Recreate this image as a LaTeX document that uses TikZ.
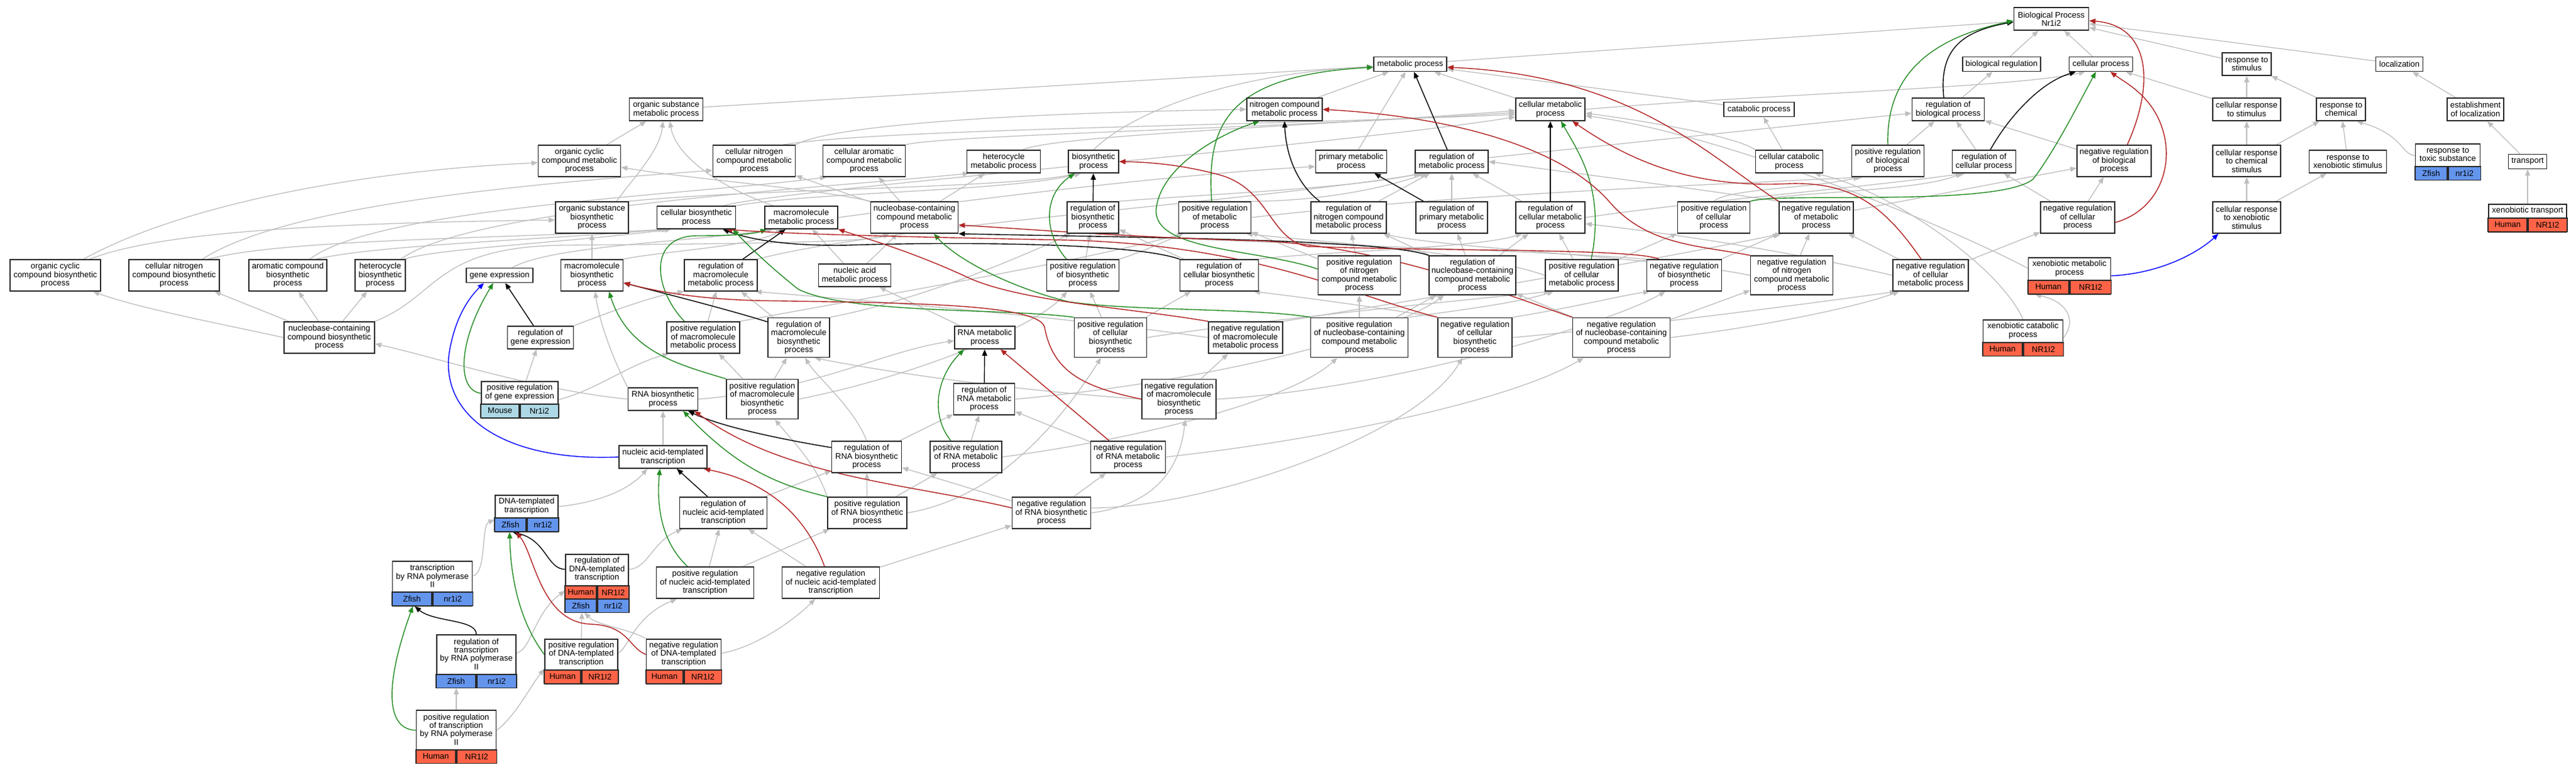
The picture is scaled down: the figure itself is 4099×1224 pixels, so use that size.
\documentclass[tikz,border=0pt]{standalone}
\usepackage{fontspec}
\setmainfont{Liberation Sans}
\usetikzlibrary{arrows.meta,calc,backgrounds}
\pgfdeclarelayer{bottom}
\pgfsetlayers{bottom,background,main}
\definecolor{isagrey}{RGB}{190,190,190}
\definecolor{nodeline}{RGB}{40,40,40}
\definecolor{regred}{RGB}{178,34,34}
\definecolor{reggreen}{RGB}{34,139,34}
\definecolor{human}{RGB}{255,99,71}
\definecolor{zfish}{RGB}{100,149,237}
\definecolor{mouse}{RGB}{173,216,230}
\tikzset{
  box/.style={draw=nodeline, line width=1.6pt, fill=white, inner sep=0pt, align=center, font=\fontsize{13}{13.4}\selectfont},
  txt/.style={inner sep=0pt, align=center, font=\fontsize{13}{13.4}\selectfont},
  cell/.style={draw=nodeline, line width=1.6pt, inner sep=0pt, minimum height=21.5pt, font=\fontsize{13}{13.4}\selectfont},
  isa/.style={draw=isagrey, line width=1.3pt, -{Triangle[length=10pt,width=8pt]}},
  bkreg/.style={draw=black, line width=1.4pt, -{Triangle[length=10pt,width=8pt]}},
  gnreg/.style={draw=reggreen, line width=1.4pt, -{Triangle[length=10pt,width=8pt]}},
  rdreg/.style={draw=regred, line width=1.4pt, -{Triangle[length=10pt,width=8pt]}},
  partof/.style={draw=blue, line width=1.4pt, -{Triangle[length=10pt,width=8pt]}},
}
\newcommand{\gonode}[6]{\node[box, minimum width=#4pt, minimum height=#5pt] (#1) at (#2,#3) {#6};}
\newcommand{\labbox}[7]{%
  \node[box, minimum width=#4pt, minimum height=#5pt, anchor=north] (#1) at (#2,#3) {};
  \node[txt] (#1-t) at ($(#1.north)+(0,#6/2)$) {#7};}
\newcommand{\sprow}[7]{%
  \node[cell, fill=#7, minimum width=#4pt, anchor=north east] (#1a) at (#2,#3) {#5};
  \node[cell, fill=#7, minimum width=#4pt, anchor=north west] (#1b) at (#2,#3) {#6};}
\begin{document}
\begin{tikzpicture}[x=1pt,y=-1pt]
\useasboundingbox (0,0) rectangle (4099,1224);
\begin{pgfonlayer}{bottom}
\fill[white] (0,0) rectangle (4099,1224);
\end{pgfonlayer}
% ---------------- nodes ----------------
\gonode{BPN}{3264}{30}{119}{36}{Biological Process\\Nr1i2}
\gonode{MP}{2244}{102}{116}{23}{metabolic process}
\gonode{BR}{3185}{102}{124}{23}{biological regulation}
\gonode{CP}{3343}{102}{101}{23}{cellular process}
\gonode{RS}{3575}{102}{78}{36}{response to\\stimulus}
\gonode{LOC}{3818}{102}{75}{23}{localization}
\gonode{OSMP}{1060}{174}{117}{36}{organic substance\\metabolic process}
\gonode{NCMP}{2044}{174}{120}{36}{nitrogen compound\\metabolic process}
\gonode{CMP}{2467}{174}{110}{36}{cellular metabolic\\process}
\gonode{CATP}{2799}{174}{112}{23}{catabolic process}
\gonode{RBIOP}{3100}{174}{115}{36}{regulation of\\biological process}
\gonode{CRS}{3575}{174}{108}{36}{cellular response\\to stimulus}
\gonode{RC}{3725}{174}{78}{36}{response to\\chemical}
\gonode{EOL}{3939}{174}{90}{36}{establishment\\of localization}
\gonode{OCCMP}{922}{256}{131}{50}{organic cyclic\\compound metabolic\\process}
\gonode{CNCMP}{1200}{256}{131}{50}{cellular nitrogen\\compound metabolic\\process}
\gonode{CACMP}{1375}{256}{131}{50}{cellular aromatic\\compound metabolic\\process}
\gonode{HMP}{1597}{257}{117}{36}{heterocycle\\metabolic process}
\gonode{BP}{1740}{257}{80}{36}{biosynthetic\\process}
\gonode{PMP}{2150}{257}{113}{36}{primary metabolic\\process}
\gonode{RMP}{2310}{257}{116}{36}{regulation of\\metabolic process}
\gonode{CCATP}{2847}{257}{107}{36}{cellular catabolic\\process}
\gonode{PRBIOP}{3004}{256}{115}{50}{positive regulation\\of biological\\process}
\gonode{RCP}{3157}{257}{101}{36}{regulation of\\cellular process}
\gonode{NRBIOP}{3364}{256}{118}{50}{negative regulation\\of biological\\process}
\gonode{CRCS}{3575}{256}{108}{50}{cellular response\\to chemical\\stimulus}
\gonode{RXS}{3736}{257}{123}{36}{response to\\xenobiotic stimulus}
\labbox{RTS}{3895}{228}{103}{57.5}{36}{response to\\toxic substance}
\sprow{RTS}{3895}{264}{51.5}{Zfish}{nr1i2}{zfish}
\gonode{T}{4022}{257}{61}{23}{transport}
\gonode{OSBP}{942}{346}{116}{50}{organic substance\\biosynthetic\\process}
\gonode{CBP}{1108}{346}{125}{36}{cellular biosynthetic\\process}
\gonode{MMP}{1275}{346}{116}{36}{macromolecule\\metabolic process}
\gonode{NCCMP}{1455}{346}{139}{50}{nucleobase-containing\\compound metabolic\\process}
\gonode{RBP}{1739}{346}{82}{50}{regulation of\\biosynthetic\\process}
\gonode{PRMP}{1933}{346}{115}{50}{positive regulation\\of metabolic\\process}
\gonode{RNCMP}{2146}{346}{120}{50}{regulation of\\nitrogen compound\\metabolic process}
\gonode{RPMP}{2310}{346}{114}{50}{regulation of\\primary metabolic\\process}
\gonode{RCMP}{2467}{346}{110}{50}{regulation of\\cellular metabolic\\process}
\gonode{PRCP}{2727}{346}{115}{50}{positive regulation\\of cellular\\process}
\gonode{NRMP}{2890}{346}{118}{50}{negative regulation\\of metabolic\\process}
\gonode{NRCP}{3306}{346}{118}{50}{negative regulation\\of cellular\\process}
\gonode{CRXS}{3575}{346}{108}{50}{cellular response\\to xenobiotic\\stimulus}
\labbox{XT}{4022}{324}{124}{44}{22}{xenobiotic transport}
\sprow{XT}{4022}{346}{62}{Human}{NR1I2}{human}
\gonode{OCCBP}{88}{438}{144}{50}{organic cyclic\\compound biosynthetic\\process}
\gonode{CNCBP}{277}{438}{144}{50}{cellular nitrogen\\compound biosynthetic\\process}
\gonode{ACBP}{458}{438}{124}{50}{aromatic compound\\biosynthetic\\process}
\gonode{HBP}{605}{438}{80}{50}{heterocycle\\biosynthetic\\process}
\gonode{GE}{795}{438}{106}{23}{gene expression}
\gonode{MBP}{942}{438}{99}{50}{macromolecule\\biosynthetic\\process}
\gonode{RMMP}{1147}{438}{116}{50}{regulation of\\macromolecule\\metabolic process}
\gonode{NAMP}{1360}{438}{115}{36}{nucleic acid\\metabolic process}
\gonode{PRBP}{1723}{438}{115}{50}{positive regulation\\of biosynthetic\\process}
\gonode{RCBP}{1940}{438}{125}{50}{regulation of\\cellular biosynthetic\\process}
\gonode{PRNCMP}{2163}{438}{131}{62}{positive regulation\\of nitrogen\\compound metabolic\\process}
\gonode{RNCCMP}{2343}{438}{138}{62}{regulation of\\nucleobase-containing\\compound metabolic\\process}
\gonode{PRCMP}{2517}{438}{116}{50}{positive regulation\\of cellular\\metabolic process}
\gonode{NRBSP}{2680}{438}{119}{50}{negative regulation\\of biosynthetic\\process}
\gonode{NRNCMP}{2851}{438}{131}{62}{negative regulation\\of nitrogen\\compound metabolic\\process}
\gonode{NRCMP}{3072}{438}{120}{50}{negative regulation\\of cellular\\metabolic process}
\labbox{XMP}{3293}{409}{131}{58}{36}{xenobiotic metabolic\\process}
\sprow{XMP}{3293}{445}{65.5}{Human}{NR1I2}{human}
\gonode{NCCBP}{524}{537}{144}{50}{nucleobase-containing\\compound biosynthetic\\process}
\gonode{RGE}{860}{537}{105}{36}{regulation of\\gene expression}
\gonode{PRMMP}{1119}{537}{116}{50}{positive regulation\\of macromolecule\\metabolic process}
\gonode{RMBP}{1271}{537}{98}{63}{regulation of\\macromolecule\\biosynthetic\\process}
\gonode{RNAMP}{1567}{537}{96}{36}{RNA metabolic\\process}
\gonode{PRCBP}{1767}{537}{115}{63}{positive regulation\\of cellular\\biosynthetic\\process}
\gonode{NRMMP}{1982}{537}{118}{50}{negative regulation\\of macromolecule\\metabolic process}
\gonode{PRNCCMP}{2163}{537}{155}{63}{positive regulation\\of nucleobase-containing\\compound metabolic\\process}
\gonode{NRCBP}{2347}{537}{118}{63}{negative regulation\\of cellular\\biosynthetic\\process}
\gonode{NRNCCMP}{2580}{537}{155}{63}{negative regulation\\of nucleobase-containing\\compound metabolic\\process}
\labbox{XCP}{3219}{508}{127}{57.5}{36}{xenobiotic catabolic\\process}
\sprow{XCP}{3219}{544}{63.5}{Human}{NR1I2}{human}
\labbox{PRGE}{827}{606}{122}{58}{36}{positive regulation\\of gene expression}
\sprow{PRGE}{827}{642}{61}{Mouse}{Nr1i2}{mouse}
\gonode{RNABP}{1055}{635}{111}{36}{RNA biosynthetic\\process}
\gonode{PRMBP}{1213}{635}{114}{63}{positive regulation\\of macromolecule\\biosynthetic\\process}
\gonode{RRNAMP}{1566}{635}{97}{50}{regulation of\\RNA metabolic\\process}
\gonode{NRMBP}{1876}{635}{118}{63}{negative regulation\\of macromolecule\\biosynthetic\\process}
\gonode{NATT}{1055}{727}{140}{36}{nucleic acid-templated\\transcription}
\gonode{RRNABP}{1379}{727}{111}{50}{regulation of\\RNA biosynthetic\\process}
\gonode{PRRNAMP}{1537}{727}{114}{50}{positive regulation\\of RNA metabolic\\process}
\gonode{NRRNAMP}{1795}{727}{119}{50}{negative regulation\\of RNA metabolic\\process}
\labbox{DNAT}{838}{787}{100}{58}{36}{DNA-templated\\transcription}
\sprow{DNAT}{838}{823}{50}{Zfish}{nr1i2}{zfish}
\gonode{RNATT}{1151}{816}{139}{50}{regulation of\\nucleic acid-templated\\transcription}
\gonode{PRRNABP}{1380}{816}{126}{50}{positive regulation\\of RNA biosynthetic\\process}
\gonode{NRRNABP}{1673}{816}{125}{50}{negative regulation\\of RNA biosynthetic\\process}
\labbox{TRP2}{688}{892}{127}{71}{49}{transcription\\by RNA polymerase\\II}
\sprow{TRP2}{688}{941}{63.5}{Zfish}{nr1i2}{zfish}
\labbox{RDNAT}{950}{881}{100}{92}{50}{regulation of\\DNA-templated\\transcription}
\sprow{RDNATh}{950}{931}{50}{Human}{NR1I2}{human}
\sprow{RDNATz}{950}{952}{50}{Zfish}{nr1i2}{zfish}
\gonode{PRNATT}{1122}{927}{155}{50}{positive regulation\\of nucleic acid-templated\\transcription}
\gonode{NRNATT}{1322}{927}{155}{50}{negative regulation\\of nucleic acid-templated\\transcription}
\labbox{RTRP2}{758}{1009}{126}{84}{63}{regulation of\\transcription\\by RNA polymerase\\II}
\sprow{RTRP2}{758}{1072}{63}{Zfish}{nr1i2}{zfish}
\labbox{PRDNAT}{925}{1016}{116}{71}{49}{positive regulation\\of DNA-templated\\transcription}
\sprow{PRDNAT}{925}{1065}{58}{Human}{NR1I2}{human}
\labbox{NRDNAT}{1088}{1016}{119}{71}{49}{negative regulation\\of DNA-templated\\transcription}
\sprow{NRDNAT}{1088}{1065}{59.5}{Human}{NR1I2}{human}
\labbox{PRTRP2}{726}{1129}{127}{84}{63}{positive regulation\\of transcription\\by RNA polymerase\\II}
\sprow{PRTRP2}{726}{1192}{63.5}{Human}{NR1I2}{human}
% ---------------- edges ----------------
\begin{pgfonlayer}{background}
% is_a (grey)
\draw[isa] (MP) -- (BPN);
\draw[isa] (BR) -- (BPN);
\draw[isa] (CP) -- (BPN);
\draw[isa] (RS) -- (BPN);
\draw[isa] (LOC) -- (BPN);
\draw[isa] (RBIOP) -- (BR);
\draw[isa] (CMP) -- (MP);
\draw[isa] (CMP.east) .. controls (2800,150) and (3200,140) .. ([xshift=-25]CP.south);
\draw[isa] (OSMP) -- (MP);
\draw[isa] (NCMP) -- (MP);
\draw[isa] (PMP) -- (MP);
\draw[isa] (BP.north) .. controls (1800,180) and (1950,118) .. ([yshift=-4]MP.west);
\draw[isa] (CATP) -- (MP);
\draw[isa] (CCATP) -- (CATP);
\draw[isa] (CCATP.north west) .. controls (2760,215) and (2600,190) .. ([yshift=-6]CMP.east);
\draw[isa] (RMP) -- (RBIOP);
\draw[isa] (RCP) -- (RBIOP);
\draw[isa] (PRBIOP) -- (RBIOP);
\draw[isa] (NRBIOP) -- (RBIOP);
\draw[isa] (PRCP.north) .. controls (2750,300) and (2880,300) .. ([xshift=-45]PRBIOP.south);
\draw[isa] (PRCP.north east) .. controls (2850,305) and (3050,305) .. ([xshift=-35]RCP.south);
\draw[isa] (NRCP) -- (NRBIOP);
\draw[isa] (NRCP) -- (RCP);
\draw[isa] (CRS) -- (RS);
\draw[isa] (CRS) -- (CP);
\draw[isa] (RC) -- (RS);
\draw[isa] (CRCS) -- (CRS);
\draw[isa] (CRCS) -- (RC);
\draw[isa] (RXS) -- (RC);
\draw[isa] (CRXS) -- (CRCS);
\draw[isa] (CRXS) -- (RXS);
\draw[isa] ([yshift=10]RTS.west) .. controls (3820,245) and (3825,215) .. ([xshift=25]RC.south);
\draw[isa] (EOL) -- (LOC);
\draw[isa] (T) -- (EOL);
\draw[isa] (XT) -- (T);
\draw[isa] ([yshift=12]XMP.west) .. controls (3100,360) and (2750,215) .. ([yshift=-10]CMP.east);
\draw[isa] (XCP.east) .. controls (3305,510) and (3290,480) .. ([xshift=-55]XMP.south);
\draw[isa] (XCP.north) .. controls (3180,420) and (3000,300) .. ([xshift=40]CCATP.south);
\draw[isa] (OCCMP) -- (OSMP);
\draw[isa] (CNCMP.north east) .. controls (1320,200) and (1600,180) .. (NCMP.west);
\draw[isa] ([xshift=-20]CNCMP.north east) .. controls (1400,205) and (2000,200) .. ([yshift=-8]CMP.west);
\draw[isa] (CACMP.north east) .. controls (1500,215) and (2000,205) .. ([yshift=-5]CMP.west);
\draw[isa] ([xshift=30]HMP.north) .. controls (1680,215) and (2100,200) .. ([yshift=-2]CMP.west);
\draw[isa] (NCCMP.north west) .. controls (1300,300) and (1100,285) .. ([yshift=-10]OCCMP.east);
\draw[isa] (NCCMP) -- (CNCMP);
\draw[isa] (NCCMP) -- (CACMP);
\draw[isa] (NCCMP) -- (HMP);
\draw[isa] ([xshift=39]OSBP.north) .. controls (1010,280) and (1050,240) .. ([xshift=-5]OSMP.south);
\draw[isa] ([xshift=-44]MMP.north) .. controls (1150,300) and (1075,250) .. ([xshift=6]OSMP.south);
\draw[isa] (MMP.east) .. controls (1600,310) and (1900,275) .. ([yshift=-8]PMP.west);
\draw[isa] (OSBP.north east) .. controls (1200,300) and (1600,300) .. ([xshift=-25]BP.south);
\draw[isa] (CBP.north east) .. controls (1300,305) and (1600,305) .. ([xshift=-20]BP.south);
\draw[isa] ([xshift=43]CBP.north) .. controls (1250,300) and (2100,235) .. ([yshift=-12]CMP.west);
\draw[isa] ([xshift=20]GE.north) .. controls (880,390) and (1100,385) .. ([xshift=-45]MMP.south);
\draw[isa] (MBP) -- (OSBP);
\draw[isa] (MBP.north east) .. controls (1050,400) and (1200,392) .. ([xshift=-30]MMP.south);
\draw[isa] (NAMP) -- (NCCMP);
\draw[isa] (NAMP) -- (MMP);
\draw[isa] (NCCBP.west) .. controls (350,515) and (220,490) .. ([xshift=60]OCCBP.south);
\draw[isa] (NCCBP) -- (CNCBP);
\draw[isa] (NCCBP) -- (ACBP);
\draw[isa] (NCCBP) -- (HBP);
\draw[isa] (NCCBP.north east) .. controls (700,470) and (690,392) .. (900,390) .. controls (1150,388) and (1380,386) .. ([xshift=-40]NCCMP.south);
\draw[isa] ([xshift=45]OCCBP.north) .. controls (300,320) and (600,270) .. ([yshift=-3]OCCMP.west);
\draw[isa] ([xshift=55]OCCBP.north) .. controls (250,370) and (500,355) .. ([yshift=-4]OSBP.west);
\draw[isa] ([xshift=45]CNCBP.north) .. controls (450,330) and (800,295) .. ([yshift=-15]CNCMP.west);
\draw[isa] ([xshift=55]CNCBP.north) .. controls (450,380) and (800,380) .. ([xshift=-50]CBP.south);
\draw[isa] ([xshift=35]ACBP.north) .. controls (600,330) and (1100,310) .. ([xshift=-60]CACMP.south);
\draw[isa] ([xshift=45]ACBP.north) .. controls (600,390) and (850,382) .. ([xshift=-45]CBP.south);
\draw[isa] ([xshift=33]HBP.north) .. controls (750,330) and (1300,300) .. ([xshift=-55]HMP.south);
\draw[isa] ([xshift=38]HBP.north) .. controls (700,395) and (900,386) .. ([xshift=-40]CBP.south);
\draw[isa] (RMMP.north east) .. controls (1400,360) and (2000,320) .. ([xshift=-45]RMP.south);
\draw[isa] (RGE.north east) .. controls (960,500) and (1040,470) .. (RMMP.south west);
\draw[isa] (PRGE) -- (RGE);
\draw[isa] (PRGE.east) .. controls (950,620) and (1000,580) .. ([xshift=-55]PRMMP.south);
\draw[isa] (RMBP) -- (RMMP);
\draw[isa] (RMBP.north east) .. controls (1450,480) and (1600,420) .. ([xshift=-35]RBP.south);
\draw[isa] (PRMMP) -- (RMMP);
\draw[isa] (PRMMP.north east) .. controls (1400,470) and (1700,420) .. ([xshift=-50]PRMP.south);
\draw[isa] (PRMBP) -- (RMBP);
\draw[isa] (PRMBP) -- (PRMMP);
\draw[isa] (PRMBP.east) .. controls (1450,600) and (1650,520) .. ([xshift=-25]PRBP.south);
\draw[isa] (NRMBP.west) .. controls (1600,620) and (1400,590) .. ([xshift=25]RMBP.south);
\draw[isa] (NRMBP) -- (NRMMP);
\draw[isa] (NRMBP.east) .. controls (2200,620) and (2550,520) .. ([xshift=-30]NRBSP.south);
\draw[isa] (NRMMP.west) .. controls (1700,505) and (1400,480) .. ([xshift=55]RMMP.south);
\draw[isa] (NRMMP.north east) .. controls (2300,470) and (2600,420) .. ([xshift=-55]NRMP.south);
\draw[isa] (RNAMP) -- (NAMP);
\draw[isa] (RNABP.east) .. controls (1300,620) and (1400,560) .. ([yshift=-5]RNAMP.west);
\draw[isa] (RNABP.north west) .. controls (980,580) and (955,520) .. ([xshift=5]MBP.south);
\draw[isa] (RNABP.west) .. controls (850,620) and (700,570) .. ([yshift=-10]NCCBP.east);
\draw[isa] (NATT) -- (RNABP);
\draw[isa] (RRNAMP.east) .. controls (1900,610) and (2200,540) .. ([xshift=-45]RNCCMP.south);
\draw[isa] (PRRNAMP) -- (RRNAMP);
\draw[isa] (PRRNAMP.east) .. controls (1800,700) and (2050,640) .. ([xshift=-35]PRNCCMP.south);
\draw[isa] (NRRNAMP) -- (RRNAMP);
\draw[isa] (NRRNAMP.east) .. controls (2100,700) and (2400,640) .. ([xshift=-60]NRNCCMP.south);
\draw[isa] (RRNABP) -- (RRNAMP);
\draw[isa] (RRNABP.north) .. controls (1360,650) and (1300,600) .. ([xshift=10]RMBP.south);
\draw[isa] (PRRNABP) -- (RRNABP);
\draw[isa] (PRRNABP) -- (PRRNAMP);
\draw[isa] (PRRNABP.north west) .. controls (1300,740) and (1260,700) .. ([xshift=20]PRMBP.south);
\draw[isa] (PRRNABP.east) .. controls (1600,790) and (1700,650) .. ([xshift=-15]PRCBP.south);
\draw[isa] (NRRNABP) -- (RRNABP);
\draw[isa] (NRRNABP) -- (NRRNAMP);
\draw[isa] (NRRNABP.east) .. controls (1860,800) and (1880,720) .. ([xshift=10]NRMBP.south);
\draw[isa] ([yshift=8]NRRNABP.east) .. controls (1900,810) and (2250,700) .. ([xshift=-20]NRCBP.south);
\draw[isa] (RNATT) -- (RRNABP);
\draw[isa] (PRNATT) -- (RNATT);
\draw[isa] (PRNATT) -- (PRRNABP);
\draw[isa] (NRNATT) -- (RNATT);
\draw[isa] (NRNATT) -- (NRRNABP);
\draw[isa] ([yshift=11]DNAT.east) .. controls (950,800) and (1000,780) .. ([xshift=-25]NATT.south);
\draw[isa] ([yshift=12]TRP2.east) .. controls (775,912) and (765,835) .. ([yshift=-10]DNAT.west);
\draw[isa] ([yshift=22]RDNAT.east) .. controls (1030,905) and (1040,860) .. ([xshift=-65]RNATT.south);
\draw[isa] ([yshift=13]RTRP2.east) .. controls (845,1035) and (850,975) .. ([yshift=-12]RDNAT.west);
\draw[isa] (PRDNAT.north) -- ([xshift=-24]RDNAT.south);
\draw[isa] ([yshift=13]PRDNAT.east) .. controls (1000,1030) and (1010,980) .. ([xshift=-45]PRNATT.south);
\draw[isa] ([yshift=13]NRDNAT.east) .. controls (1200,1030) and (1260,990) .. ([xshift=-25]NRNATT.south);
\draw[isa] (NRDNAT.north west) .. controls (1000,1000) and (950,995) .. ([xshift=-20]RDNAT.south);
\draw[isa] (PRTRP2.north) -- (PRTRP2.north |- RTRP2.south);
\draw[isa] ([yshift=10]PRTRP2.east) .. controls (820,1140) and (845,1090) .. ([yshift=-12]PRDNAT.west);
\draw[isa] (RBP.north east) .. controls (1900,310) and (2150,300) .. ([xshift=-50]RMP.south);
\draw[isa] (PRBP) -- (RBP);
\draw[isa] (PRBP.north east) .. controls (1820,400) and (1850,385) .. ([xshift=-50]PRMP.south);
\draw[isa] (NRBSP.north west) .. controls (2400,395) and (1900,385) .. ([xshift=30]RBP.south);
\draw[isa] (NRBSP) -- (NRMP);
\draw[isa] (RCBP) -- (RBP);
\draw[isa] (RCBP.north east) .. controls (2100,400) and (2350,395) .. ([xshift=-45]RCMP.south);
\draw[isa] (PRCBP) -- (RCBP);
\draw[isa] (PRCBP) -- (PRBP);
\draw[isa] (PRCBP.east) .. controls (2000,510) and (2300,480) .. ([xshift=-50]PRCMP.south);
\draw[isa] (NRCBP.north west) .. controls (2200,490) and (2050,470) .. ([xshift=55]RCBP.south);
\draw[isa] (NRCBP.north east) .. controls (2500,490) and (2580,470) .. ([xshift=-55]NRBSP.south);
\draw[isa] (NRCBP.east) .. controls (2600,520) and (2900,480) .. ([xshift=-55]NRCMP.south);
\draw[isa] (RNCMP) -- (RMP);
\draw[isa] (PRNCMP) -- (RNCMP);
\draw[isa] (PRNCMP) -- (PRMP);
\draw[isa] (NRNCMP.west) .. controls (2650,410) and (2300,395) .. ([xshift=55]RNCMP.south);
\draw[isa] (NRNCMP) -- (NRMP);
\draw[isa] (RPMP) -- (RMP);
\draw[isa] (RCMP) -- (RMP);
\draw[isa] (RCMP.east) .. controls (2700,320) and (2950,300) .. ([xshift=-30]RCP.south);
\draw[isa] (PRMP.north east) .. controls (2100,320) and (2200,300) .. ([xshift=-40]RMP.south);
\draw[isa] (PRMP.east) .. controls (2300,310) and (2700,295) .. ([xshift=-40]PRBIOP.south);
\draw[isa] (PRCMP) -- (RCMP);
\draw[isa] (PRCMP.west) .. controls (2350,400) and (2100,385) .. ([xshift=50]PRMP.south);
\draw[isa] (PRCMP) -- (PRCP);
\draw[isa] (NRCMP.west) .. controls (2850,400) and (2650,370) .. ([yshift=-10]RCMP.east);
\draw[isa] (NRCMP) -- (NRMP);
\draw[isa] (NRCMP) -- (NRCP);
\draw[isa] (RNCCMP) -- (RNCMP);
\draw[isa] (RNCCMP) -- (RPMP);
\draw[isa] (RNCCMP) -- (RCMP);
\draw[isa] (PRNCCMP) -- (RNCCMP);
\draw[isa] (PRNCCMP) -- (PRNCMP);
\draw[isa] (PRNCCMP.north east) .. controls (2350,490) and (2420,480) .. ([xshift=-45]PRCMP.south);
\draw[isa] (NRNCCMP) -- (RNCCMP);
\draw[isa] (NRNCCMP) -- (NRNCMP);
\draw[isa] (NRNCCMP.east) .. controls (2800,520) and (2950,490) .. ([xshift=-50]NRCMP.south);
\draw[isa] (NRMP) -- (NRBIOP);
\draw[isa] (NRMP.north west) .. controls (2700,300) and (2500,275) .. (RMP.east);
% regulates (black)
\draw[bkreg] ([xshift=-7]RBIOP.north) .. controls (3085,80) and (3120,50) .. ([yshift=-5]BPN.west);
\draw[bkreg] ([xshift=10]RCP.north) .. controls (3200,180) and (3250,130) .. ([xshift=-40]CP.south);
\draw[bkreg] ([xshift=-7]RMP.north) -- ([xshift=6]MP.south);
\draw[bkreg] (RCMP) -- (CMP);
\draw[bkreg] ([xshift=-45]RPMP.north) -- ([xshift=37]PMP.south);
\draw[bkreg] ([xshift=-46]RNCMP.north) .. controls (2060,290) and (2046,240) .. (NCMP.south);
\draw[bkreg] (RBP) -- (BP);
\draw[bkreg] (RCBP.north west) .. controls (1800,385) and (1500,385) .. (1350,390) .. controls (1250,392) and (1190,380) .. ([xshift=42]CBP.south);
\draw[bkreg] (RNCCMP.north west) .. controls (2200,380) and (1800,378) .. (NCCMP.south east);
\draw[bkreg] ([xshift=35]RMMP.north) -- ([xshift=-25]MMP.south);
\draw[bkreg] ([yshift=25]RMBP.west) .. controls (1150,490) and (1050,465) .. ([yshift=-12]MBP.east);
\draw[bkreg] (RRNAMP) -- (RNAMP);
\draw[bkreg] ([yshift=15]RRNABP.west) .. controls (1250,700) and (1150,680) .. ([xshift=40]RNABP.south);
\draw[bkreg] ([xshift=-25]RNATT.north) -- ([xshift=22]NATT.south);
\draw[bkreg] ([yshift=22]RDNAT.west) .. controls (870,905) and (870,860) .. ([xshift=-22]DNAT.south);
\draw[bkreg] (RTRP2.north) .. controls (758,985) and (690,990) .. ([xshift=-28]TRP2.south);
\draw[bkreg] ([xshift=-11]RGE.north) -- ([xshift=9]GE.south);
% positively regulates (green)
\draw[gnreg] (PRBIOP.north) .. controls (3000,100) and (3100,55) .. ([yshift=-3]BPN.west);
\draw[gnreg] (PRCP.north east) .. controls (2830,305) and (3180,330) .. (3235,285) .. controls (3270,240) and (3310,160) .. ([xshift=-8]CP.south);
\draw[gnreg] ([xshift=-5]PRMP.north) .. controls (1920,200) and (1950,120) .. ([yshift=-5]MP.west);
\draw[gnreg] ([yshift=10]PRNCMP.west) .. controls (2000,395) and (1830,400) .. (1840,330) .. controls (1850,260) and (1950,210) .. ([xshift=-40]NCMP.south);
\draw[gnreg] ([xshift=15]PRCMP.north) .. controls (2555,300) and (2510,240) .. ([xshift=17]CMP.south);
\draw[gnreg] ([xshift=-26]PRBP.north) .. controls (1660,370) and (1660,310) .. ([xshift=-30]BP.south);
\draw[gnreg] (PRCBP.north west) .. controls (1600,490) and (1350,500) .. (1270,460) .. controls (1220,420) and (1190,390) .. ([xshift=58]CBP.south);
\draw[gnreg] ([xshift=-30]PRMMP.north) .. controls (1040,460) and (1030,375) .. (1110,375) .. controls (1170,375) and (1200,372) .. ([xshift=-55]MMP.south);
\draw[gnreg] ([yshift=10]PRGE.west) .. controls (725,620) and (730,540) .. ([xshift=-10]GE.south);
\draw[gnreg] (PRMBP.north west) .. controls (1080,580) and (1000,560) .. ([xshift=27]MBP.south);
\draw[gnreg] ([xshift=-24]PRRNAMP.north) .. controls (1480,660) and (1490,600) .. ([xshift=-33]RNAMP.south);
\draw[gnreg] (PRRNABP.north west) .. controls (1230,770) and (1170,740) .. ([xshift=32]RNABP.south);
\draw[gnreg] ([xshift=-28]PRNATT.north) .. controls (1050,860) and (1045,800) .. ([xshift=-5]NATT.south);
\draw[gnreg] ([yshift=11]PRDNAT.west) .. controls (820,980) and (812,900) .. ([xshift=-27]DNAT.south);
\draw[gnreg] ([yshift=10]PRTRP2.west) .. controls (610,1160) and (615,1080) .. ([xshift=-31]TRP2.south);
\draw[gnreg] (PRNCCMP.north west) .. controls (2000,490) and (1800,495) .. (1700,480) .. controls (1600,455) and (1520,410) .. ([xshift=31]NCCMP.south);
% negatively regulates (red)
\draw[rdreg] ([xshift=21]NRBIOP.north) .. controls (3430,130) and (3420,40) .. ([yshift=-3]BPN.east);
\draw[rdreg] ([yshift=-8]NRCP.east) .. controls (3450,330) and (3470,230) .. (3420,165) .. controls (3400,140) and (3380,130) .. ([xshift=15]CP.south);
\draw[rdreg] (NRMP.north west) .. controls (2720,250) and (2600,120) .. ([yshift=-5]MP.east);
\draw[rdreg] (NRNCMP.north west) .. controls (2700,390) and (2620,390) .. (2560,320) .. controls (2480,230) and (2300,185) .. (NCMP.east);
\draw[rdreg] ([xshift=-15]NRCMP.north) .. controls (3000,330) and (2950,290) .. (2850,292) .. controls (2700,300) and (2600,260) .. ([xshift=35]CMP.south);
\draw[rdreg] ([xshift=-40]NRBSP.north) .. controls (2600,395) and (2300,400) .. (2080,392) .. controls (2020,380) and (2020,300) .. (1940,278) .. controls (1880,262) and (1830,258) .. (BP.east);
\draw[rdreg] (NRCBP.north west) .. controls (2150,470) and (2000,390) .. (1700,382) .. controls (1400,376) and (1250,372) .. ([xshift=47]CBP.south);
\draw[rdreg] (NRMMP.north west) .. controls (1800,490) and (1620,480) .. (1537,440) .. controls (1450,400) and (1380,380) .. (MMP.south east);
\draw[rdreg] (NRMBP.west) .. controls (1720,615) and (1675,590) .. (1662,520) .. controls (1650,480) and (1400,482) .. (1200,478) .. controls (1100,475) and (1040,462) .. ([yshift=-12]MBP.east);
\draw[rdreg] (NRNCCMP.north west) .. controls (2400,470) and (2200,390) .. (2000,383) .. controls (1800,378) and (1600,362) .. ([yshift=-12]NCCMP.east);
\draw[rdreg] ([xshift=-30]NRRNAMP.north) -- ([xshift=25]RNAMP.south);
\draw[rdreg] ([yshift=8]NRRNABP.west) .. controls (1450,770) and (1250,760) .. ([xshift=50]RNABP.south);
\draw[rdreg] ([xshift=-10]NRNATT.north) .. controls (1290,840) and (1240,770) .. ([xshift=65]NATT.south);
\draw[rdreg] ([yshift=11]NRDNAT.west) .. controls (1000,1030) and (1000,995) .. (940,993) .. controls (860,990) and (850,880) .. ([xshift=-17]DNAT.south);
% part of (blue)
\draw[partof] (NATT.west) .. controls (800,735) and (700,660) .. (715,560) .. controls (725,500) and (750,470) .. ([xshift=-25]GE.south);
\draw[partof] (XMP.east) .. controls (3440,435) and (3500,400) .. ([xshift=-45]CRXS.south);
\end{pgfonlayer}
\end{tikzpicture}
\end{document}
